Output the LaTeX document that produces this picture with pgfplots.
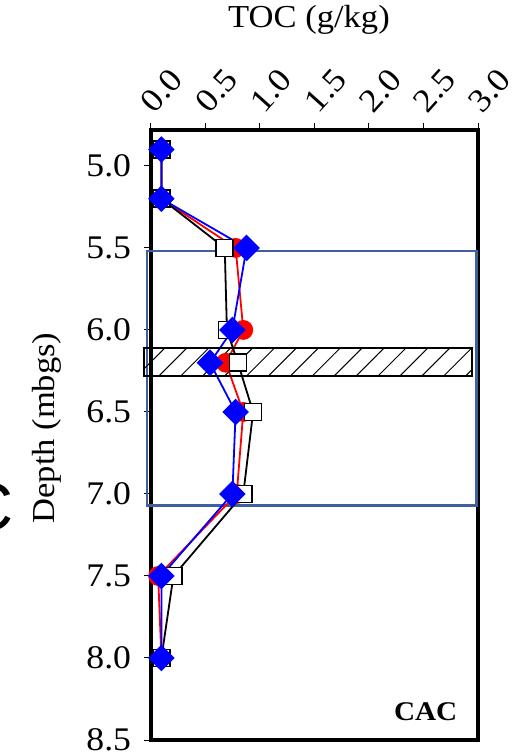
\documentclass[border=0pt]{standalone}
\usepackage{fontspec}
\setmainfont[FakeStretch=1.08]{Liberation Serif}
\newfontfamily\panelfont{Liberation Sans}
\usepackage{pgfplots}
\pgfplotsset{compat=1.18}
\usetikzlibrary{patterns.meta}

\definecolor{zoneblue}{HTML}{3F5F9F}

\begin{document}
\begin{tikzpicture}[x=1bp,y=1bp]
\useasboundingbox (0,0) rectangle (526,754);

% panel letter, partly cut by the page edge
\node[inner sep=0pt, anchor=east, font=\panelfont\fontsize{68bp}{70bp}\selectfont] at (14,247) {C};

% titles
\node[anchor=base, font=\fontsize{32bp}{38bp}\selectfont] at (309,726) {TOC (g/kg)};
\node[anchor=base, rotate=90, font=\fontsize{32bp}{38bp}\selectfont] at (54,326) {Depth (mbgs)};

\begin{axis}[
  at={(150.5bp,14bp)}, anchor=south west,
  scale only axis, width=327.5bp, height=609.5bp,
  xmin=0, xmax=3, ymin=4.784, ymax=8.5,
  y dir=reverse,
  xtick={0,0.5,1,1.5,2,2.5,3},
  ytick={5,5.5,6,6.5,7,7.5,8,8.5},
  xtick pos=right, xticklabel pos=right, ytick pos=left,
  tick align=outside, major tick length=7bp,
  tick style={line width=1bp, black},
  axis line style={line width=4bp, line cap=rect},
  clip=false,
  tick label style={font=\fontsize{33bp}{38bp}\selectfont,
    /pgf/number format/fixed, /pgf/number format/fixed zerofill,
    /pgf/number format/precision=1, /pgf/number format/assume math mode=true},
  xticklabel style={anchor=south west, xshift=5bp, yshift=4bp, rotate=48},
  yticklabel style={anchor=east, xshift=-9bp},
]

% sampled interval
\draw[draw=zoneblue, line width=2.5bp] (axis cs:-0.03,5.52) rectangle (axis cs:2.985,7.07);

% red circles
\addplot[red, line width=1.8bp, mark=*, mark size=9bp] coordinates {
  (0.10,4.9) (0.10,5.2) (0.78,5.5) (0.85,6.0) (0.69,6.2)
  (0.85,6.5) (0.79,7.0) (0.07,7.5) (0.10,8.0)};

% black open squares
\addplot[black, line width=1.8bp, mark=square*, mark size=8.5bp,
  mark options={fill=white, line width=1.5bp}] coordinates {
  (0.10,4.9) (0.10,5.2) (0.68,5.5) (0.70,6.0) (0.80,6.2)
  (0.94,6.5) (0.85,7.0) (0.21,7.5) (0.10,8.0)};

% blue diamonds
\addplot[blue, line width=1.8bp, mark=square*, mark size=8.5bp,
  mark options={rotate=45, fill=blue, draw=blue}] coordinates {
  (0.10,4.9) (0.10,5.2) (0.88,5.5) (0.75,6.0) (0.545,6.2)
  (0.78,6.5) (0.75,7.0) (0.10,7.5) (0.10,8.0)};

% hatched layer
\draw[line width=1.5bp, pattern={Lines[angle=45, distance=15.5bp, line width=1bp]}]
  (axis cs:-0.06,6.11) rectangle (axis cs:2.945,6.28);

\node[anchor=center, font=\bfseries\fontsize{27bp}{30bp}\selectfont] at (axis cs:2.52,8.33) {CAC};
\end{axis}
\end{tikzpicture}
\end{document}
